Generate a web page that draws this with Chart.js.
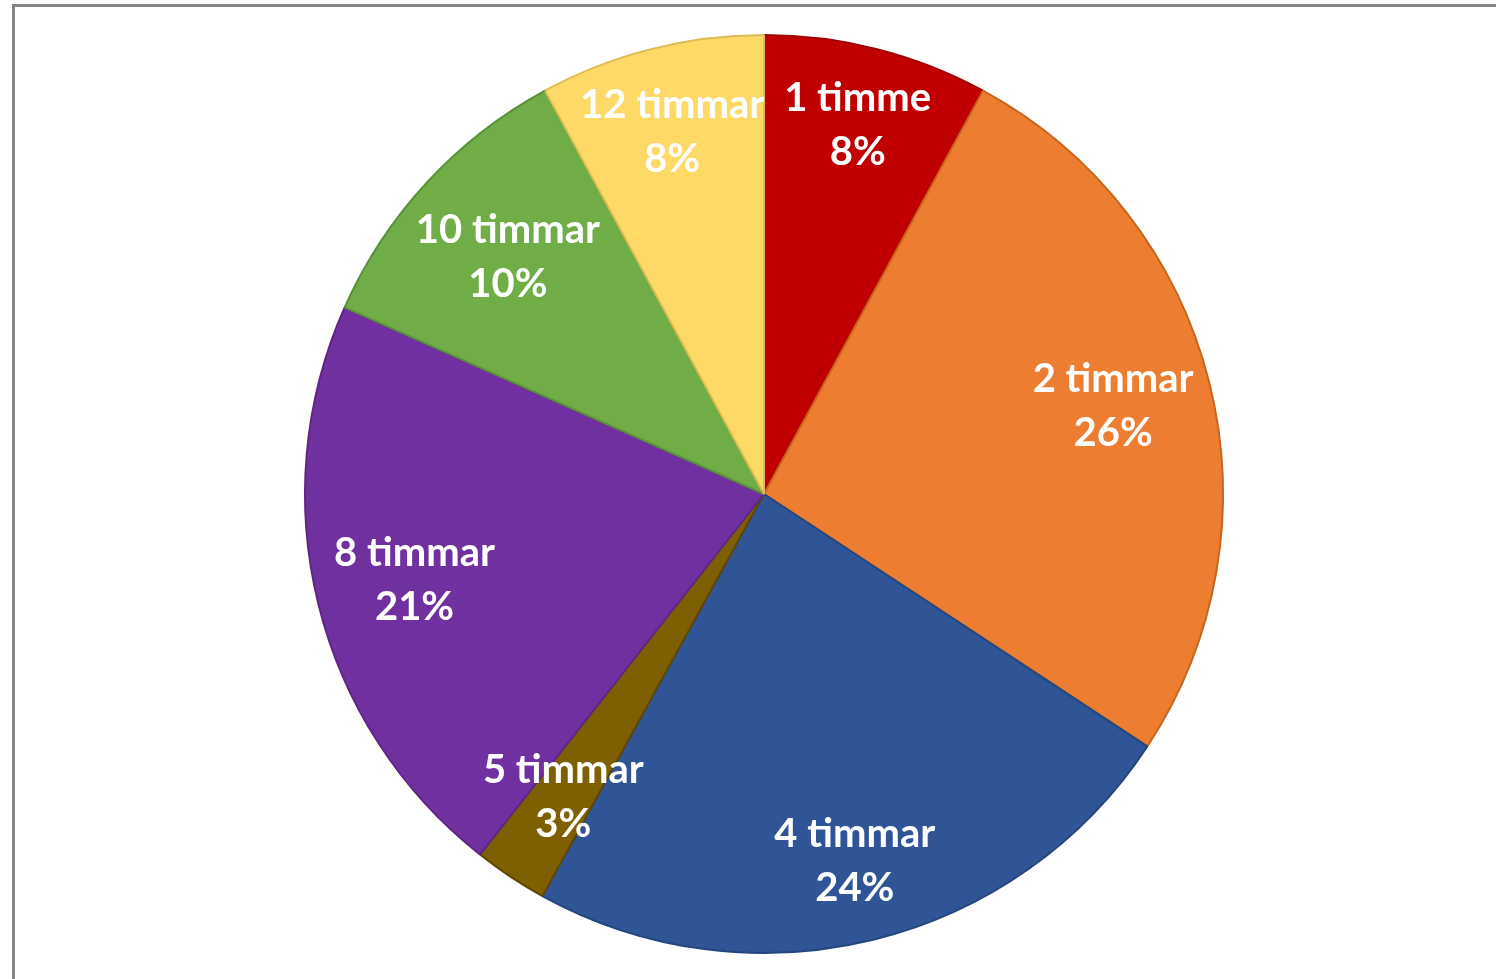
<!DOCTYPE html>
<html>
<head>
<meta charset="utf-8">
<script src="https://cdn.jsdelivr.net/npm/chart.js@4/dist/chart.umd.min.js"></script>
<style>
  html, body { margin: 0; padding: 0; background: #fff; overflow: hidden; }
  body { width: 1496px; height: 979px; position: relative; }
  .frame {
    position: absolute; left: 12px; top: 4px;
    width: 1600px; height: 1100px;
    border-left: 3px solid #858585; border-top: 3px solid #858585;
  }
  .chart-box { position: absolute; left: 294px; top: 24px; width: 940px; height: 940px; }
</style>
</head>
<body>
<div class="frame"></div>
<div class="chart-box"><canvas class="js-chart" width="940" height="940"></canvas></div>
<script>
// kategorier och andelar (procent)
const labels = ['1 timme', '2 timmar', '4 timmar', '5 timmar', '8 timmar', '10 timmar', '12 timmar'];
const values = [7.9, 26.3, 23.7, 2.6, 21.0, 10.4, 7.9];
const colors = ['#C00000', '#ED7D31', '#2F5597', '#7F6000', '#7030A0', '#70AD47', '#FFD966'];
const edgeColors = ['#A00000', '#C8641F', '#24467F', '#5E4700', '#5C2786', '#5B9137', '#DDBB55'];

// etiketter inne i tårtbitarna, placerade så att rutan ryms mot kanten
const sliceLabels = {
  id: 'sliceLabels',
  afterDatasetsDraw(chart) {
    const ctx = chart.ctx;
    const meta = chart.getDatasetMeta(0);
    const total = values.reduce((a, b) => a + b, 0);
    ctx.save();
    ctx.fillStyle = '#fff';
    ctx.font = 'bold 40px Lato';
    ctx.textAlign = 'center';
    ctx.textBaseline = 'middle';
    meta.data.forEach((arc, i) => {
      const { x, y, startAngle, endAngle, outerRadius } = arc.getProps(['x', 'y', 'startAngle', 'endAngle', 'outerRadius'], true);
      const mid = (startAngle + endAngle) / 2;
      const pct = Math.round(values[i] / total * 100) + '%';
      const w = Math.max(ctx.measureText(labels[i]).width, ctx.measureText(pct).width);
      const h = 100;
      const limit = outerRadius - 8;
      const c = Math.cos(mid), s = Math.sin(mid);
      // sök avstånd där rutans yttersta hörn når gränsen
      let lo = 0, hi = outerRadius;
      for (let k = 0; k < 40; k++) {
        const d = (lo + hi) / 2;
        const px = Math.abs(d * c) + w / 2;
        const py = Math.abs(d * s) + h / 2;
        if (Math.hypot(px, py) > limit) hi = d; else lo = d;
      }
      const cx = x + c * lo;
      const cy = y + s * lo;
      ctx.fillText(labels[i], cx, cy - 27);
      ctx.fillText(pct, cx, cy + 27);
    });
    ctx.restore();
  }
};

const $chart = document.querySelector('.js-chart');
new Chart($chart, {
  type: 'pie',
  data: {
    labels: labels,
    datasets: [{
      data: values,
      backgroundColor: colors,
      borderColor: edgeColors,
      borderWidth: 2
    }]
  },
  options: {
    responsive: false,
    animation: false,
    layout: { padding: 10 },
    plugins: {
      legend: { display: false },
      tooltip: { enabled: false },
      title: { display: false }
    }
  },
  plugins: [sliceLabels]
});
</script>
</body>
</html>
